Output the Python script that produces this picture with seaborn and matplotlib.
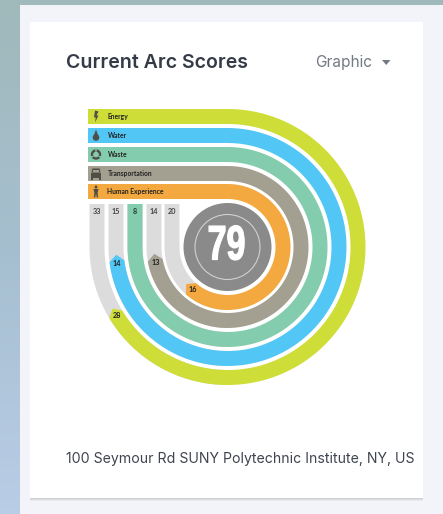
import numpy as np
import seaborn as sns
import matplotlib.pyplot as plt
from matplotlib.patches import Polygon, Rectangle, Circle, Wedge
from matplotlib.patheffects import AbstractPathEffect
from matplotlib.colors import LinearSegmentedColormap
from matplotlib.transforms import Affine2D

# ==========================================
# 1. DATA
# ==========================================
categories = ['Energy', 'Water', 'Waste', 'Transportation', 'Human Experience']
scores = [28, 14, 8, 13, 16]
max_scores = [33, 15, 8, 14, 20]
total_score = 79
colors = ['#cfdd38', '#52c7f5', '#84ccae', '#a39f91', '#f3a93f']
track_color = '#dcdcdc'

title = 'Current Arc Scores'
dropdown = 'Graphic'
address = '100 Seymour Rd SUNY Polytechnic Institute, NY, US'

# ==========================================
# 2. CANVAS (one data unit = one pixel)
# ==========================================
sns.set_theme(style='white')
plt.rcParams['font.family'] = ['Inter', 'DejaVu Sans']
label_font = ['Lato', 'DejaVu Sans']

fig = plt.figure(figsize=(4.43, 5.14), dpi=100)
ax = fig.add_axes([0, 0, 1, 1])
ax.set_xlim(0, 443)
ax.set_ylim(514, 0)
ax.axis('off')

# page background
cmap = LinearSegmentedColormap.from_list('page', ['#a0b9bb', '#a6bfd0', '#b9cde6'])
ax.imshow(np.linspace(0, 1, 64).reshape(-1, 1), cmap=cmap, extent=(0, 443, 514, 0), aspect='auto', zorder=0)
ax.add_patch(Rectangle((20, 5), 423, 509, color='#f2f4f9', lw=0, zorder=1))
# card with a soft shadow along the bottom
for h, shade in [(3, '#e8e9ed'), (2, '#dcdde0'), (1, '#cfd0d3')]:
    ax.add_patch(Rectangle((30, 498), 393, h, color=shade, lw=0, zorder=1.5))
ax.add_patch(Rectangle((30, 22), 393, 476, color='white', lw=0, zorder=2))

# ==========================================
# 3. RINGS
# ==========================================
cx, cy = 227.5, 247
outer = [138, 119, 100, 81, 63]
ring_w = 15
bar_left = 88.5
col_top = 204
sweep_full = 285  # arrow tip angle of a full score
z = 3


def pt(r, deg):
    # deg measured clockwise from 12 o'clock
    t = np.radians(deg)
    return cx + r * np.sin(t), cy - r * np.cos(t)


def px_to_deg(px, r):
    return np.degrees(px / r)


for i, cat in enumerate(categories):
    r = outer[i]
    r_in = r - ring_w
    r_mid = r - ring_w / 2
    col_x = cx - r
    frac = scores[i] / max_scores[i]
    full = frac >= 1

    # grey track: left quarter plus column
    ang = np.linspace(180, 270, 80)
    ax.add_patch(Polygon([pt(r, a) for a in ang] + [(col_x, col_top), (col_x + ring_w, col_top)]
                         + [pt(r_in, a) for a in ang[::-1]], closed=True, color=track_color, lw=0, zorder=z))

    # coloured arc, driven by score / max
    tip_angle = frac * sweep_full
    end_angle = 270 if full else tip_angle - px_to_deg(6.5, r_mid)
    ang = np.linspace(0, end_angle, 140)
    out_edge = [pt(r, a) for a in ang]
    in_edge = [pt(r_in, a) for a in ang[::-1]]
    if full:
        head = [(col_x, col_top), (col_x + ring_w, col_top)]
    else:
        head = [pt(r_mid, tip_angle)]
    ax.add_patch(Polygon(out_edge + head + in_edge, closed=True, color=colors[i], lw=0, zorder=z + 1))

    # header bar
    ax.add_patch(Rectangle((bar_left, cy - r), cx - bar_left + 1, ring_w, color=colors[i], lw=0, zorder=z + 1))
    ax.text(107.5, cy - r + ring_w / 2 + 0.3, cat, fontsize=4.9, fontweight='bold', color='#222222',
            ha='left', va='center', zorder=z + 3, family=label_font)

    # max score at the top of the column
    ax.text(col_x + ring_w / 2, col_top + (7 if full else 8), str(max_scores[i]), fontsize=5.2, fontweight='bold',
            color='#1e3d33' if full else '#444444', ha='center', va='center', zorder=z + 3, family=label_font)

    # score just behind the arrow head
    if not full:
        lx, ly = pt(r_mid, tip_angle - px_to_deg(8.5, r_mid))
        ax.text(lx, ly, str(scores[i]), fontsize=5.2, fontweight='bold', color='#222222',
                ha='center', va='center', zorder=z + 3, family=label_font)


class Condense(AbstractPathEffect):
    # squeeze the glyphs horizontally and thicken them, there is no condensed face installed
    def __init__(self, x_pixel, factor, stroke):
        super().__init__()
        self.x_pixel = x_pixel
        self.factor = factor
        self.stroke = stroke

    def draw_path(self, renderer, gc, tpath, affine, rgbFace=None):
        squeeze = Affine2D().translate(-self.x_pixel, 0).scale(self.factor, 1).translate(self.x_pixel, 0)
        gc0 = renderer.new_gc()
        gc0.copy_properties(gc)
        gc0.set_linewidth(self.stroke)
        gc0.set_foreground('white')
        renderer.draw_path(gc0, tpath, affine + squeeze, rgbFace)
        gc0.restore()


# centre disc
ax.add_patch(Circle((cx, cy), 44, color='#8a8a8a', lw=0, zorder=z + 2))
ax.add_patch(Circle((cx, cy), 32.5, fill=False, ec='#d0d0d0', lw=0.8, zorder=z + 3))
score_x = cx - 1
ax.text(score_x, cy, str(total_score), fontsize=35, fontweight='bold', color='white', ha='center', va='center',
        zorder=z + 4, family=['Liberation Sans', 'DejaVu Sans'],
        path_effects=[Condense(ax.transData.transform((score_x, cy))[0], 0.7, 0.9)])

# ==========================================
# 4. ICONS (small glyphs in the header bars)
# ==========================================
ic = '#4f4f47'
bars_y = [cy - r + 7.5 for r in outer]
ix = 96
ax.add_patch(Polygon([(ix - 1, bars_y[0] - 6), (ix + 2.5, bars_y[0] - 5), (ix + 0.5, bars_y[0] - 1), (ix + 2.5, bars_y[0] - 1),
                      (ix - 1, bars_y[0] + 6), (ix - 0.2, bars_y[0] + 1), (ix - 2, bars_y[0] + 1)], color=ic, lw=0, zorder=9))
ax.add_patch(Circle((ix, bars_y[1] + 2), 3.3, color=ic, lw=0, zorder=9))
ax.add_patch(Polygon([(ix, bars_y[1] - 6), (ix + 2.6, bars_y[1] + 1), (ix - 2.6, bars_y[1] + 1)], color=ic, lw=0, zorder=9))
ax.add_patch(Wedge((ix, bars_y[2]), 5.2, 0, 360, width=2.4, color=ic, lw=0, zorder=9))
for a in (30, 150, 270):
    ax.add_patch(Wedge((ix, bars_y[2]), 5.4, a - 9, a + 9, width=3, color=colors[2], lw=0, zorder=9.5))
ax.add_patch(Rectangle((ix - 5, bars_y[3] - 1), 10, 5, color=ic, lw=0, zorder=9))
ax.add_patch(Polygon([(ix - 3.6, bars_y[3] - 5), (ix + 3.6, bars_y[3] - 5), (ix + 4.6, bars_y[3] - 1), (ix - 4.6, bars_y[3] - 1)], color=ic, lw=0, zorder=9))
ax.add_patch(Rectangle((ix - 2.6, bars_y[3] - 4), 5.2, 2.8, color=colors[3], lw=0, zorder=9.5))
ax.add_patch(Rectangle((ix - 5, bars_y[3] + 3.5), 2.2, 2.5, color=ic, lw=0, zorder=9))
ax.add_patch(Rectangle((ix + 2.8, bars_y[3] + 3.5), 2.2, 2.5, color=ic, lw=0, zorder=9))
ax.add_patch(Circle((ix, bars_y[4] - 4.5), 1.5, color=ic, lw=0, zorder=9))
ax.add_patch(Polygon([(ix - 2.6, bars_y[4] - 2.5), (ix + 2.6, bars_y[4] - 2.5), (ix + 1.6, bars_y[4] + 1.5), (ix + 2.2, bars_y[4] + 6),
                      (ix + 0.8, bars_y[4] + 6), (ix, bars_y[4] + 2), (ix - 0.8, bars_y[4] + 6), (ix - 2.2, bars_y[4] + 6), (ix - 1.6, bars_y[4] + 1.5)],
                     color=ic, lw=0, zorder=9))

# ==========================================
# 5. CARD TEXT
# ==========================================
ax.text(66.5, 63.5, title, fontsize=14.05, fontweight='semibold', color='#343a46', ha='left', va='center', zorder=5)
ax.text(315, 63, dropdown, fontsize=11.1, color='#747a82', ha='left', va='center', zorder=5)
ax.add_patch(Polygon([(382, 60), (390.5, 60), (386.2, 65)], color='#747a82', lw=0, zorder=5))
ax.text(66, 459, address, fontsize=10.15, color='#3f4450', ha='left', va='center', zorder=5)

plt.savefig('out.png', dpi=100)
